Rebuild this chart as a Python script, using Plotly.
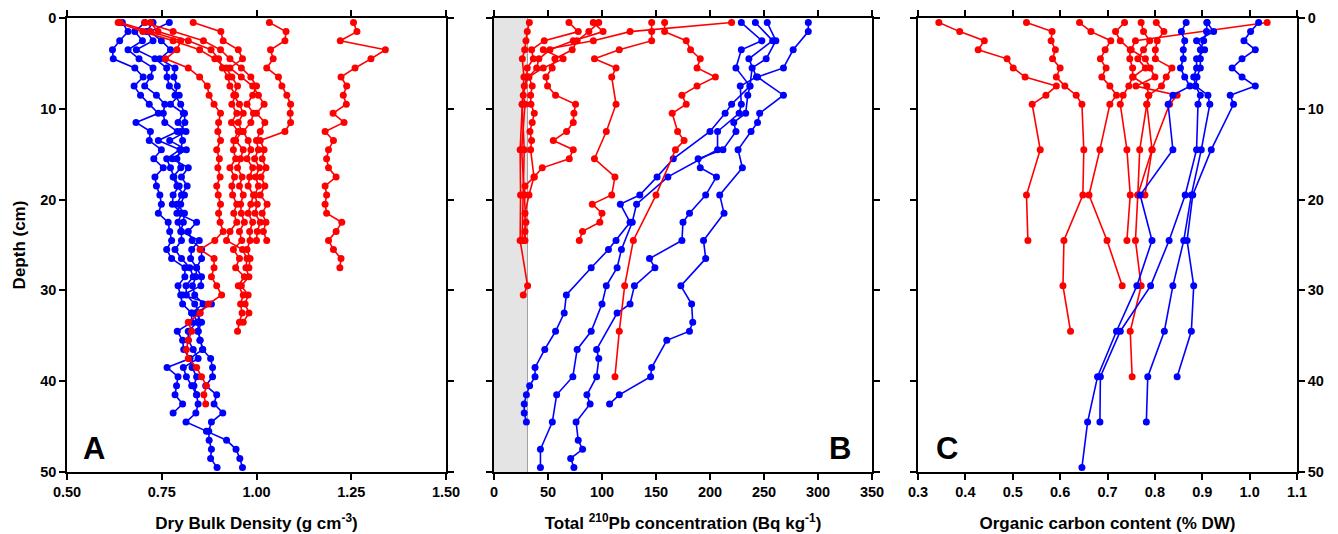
import plotly.graph_objects as go

# ---------------- data ----------------
DEPTH_1CM = [0.5, 1.5, 2.5, 3.5, 4.5, 5.5, 6.5, 7.5, 8.5, 9.5, 10.5, 11.5, 12.5, 13.5, 14.5,
             15.5, 16.5, 17.5, 18.5, 19.5, 20.5, 21.5, 22.5, 23.5, 24.5, 25.5, 26.5, 27.5,
             28.5, 29.5, 30.5, 31.5, 32.5, 33.5, 34.5, 35.5, 36.5, 37.5, 38.5, 39.5, 40.5,
             41.5, 42.5, 43.5, 44.5, 45.5, 46.5, 47.5, 48.5, 49.5]

# Panel A - dry bulk density (g cm-3), sampled every 1 cm from 0.5 cm
A_BLUE_1 = [0.646, 0.661, 0.639, 0.620, 0.622, 0.679, 0.701, 0.677, 0.694, 0.717, 0.741, 0.682,
            0.720, 0.717, 0.749, 0.729, 0.754, 0.732, 0.736, 0.745, 0.749, 0.741, 0.767, 0.771,
            0.776, 0.763, 0.776, 0.811, 0.811, 0.793, 0.800, 0.805, 0.829, 0.829, 0.791, 0.805,
            0.808, 0.824, 0.764, 0.793, 0.789, 0.785, 0.805, 0.780]
A_BLUE_2 = [0.705, 0.679, 0.699, 0.661, 0.690, 0.727, 0.720, 0.705, 0.736, 0.758, 0.754, 0.758,
            0.791, 0.741, 0.798, 0.763, 0.773, 0.782, 0.796, 0.780, 0.778, 0.802, 0.793, 0.802,
            0.802, 0.785, 0.802, 0.824, 0.833, 0.814, 0.815, 0.837, 0.851, 0.844, 0.820, 0.820,
            0.833, 0.846, 0.807, 0.815, 0.829, 0.842]
A_BLUE_3 = [0.727, 0.710, 0.727, 0.683, 0.732, 0.763, 0.764, 0.770, 0.796, 0.773, 0.807, 0.793,
            0.814, 0.771, 0.815, 0.778, 0.820, 0.802, 0.817, 0.802, 0.790, 0.810, 0.807, 0.800,
            0.849, 0.829, 0.826, 0.842, 0.840, 0.831, 0.837, 0.859, 0.829, 0.846, 0.846, 0.851,
            0.858, 0.879, 0.884, 0.884, 0.866, 0.895, 0.888, 0.911, 0.881, 0.874, 0.875, 0.881,
            0.879, 0.896]
A_BLUE_4 = [0.770, 0.719, 0.749, 0.773, 0.745, 0.785, 0.782, 0.791, 0.785, 0.800, 0.810, 0.811,
            0.800, 0.805, 0.800, 0.790, 0.800, 0.780, 0.790, 0.810, 0.800, 0.790, 0.842, 0.820,
            0.830, 0.855, 0.855, 0.842, 0.855, 0.853, 0.805, 0.881, 0.840, 0.855, 0.846, 0.851,
            0.858, 0.824, 0.830, 0.842, 0.835, 0.842, 0.846, 0.840, 0.814, 0.868, 0.921, 0.946,
            0.956, 0.963]

A_RED_1 = [1.256, 1.265, 1.221, 1.340, 1.302, 1.260, 1.223, 1.238, 1.229, 1.237, 1.202, 1.231,
           1.181, 1.203, 1.190, 1.185, 1.190, 1.210, 1.181, 1.185, 1.181, 1.185, 1.225, 1.210,
           1.190, 1.203, 1.223, 1.220]
A_RED_2 = [1.034, 1.078, 1.075, 1.037, 1.044, 1.027, 1.058, 1.067, 1.080, 1.090, 1.089, 1.090,
           1.075, 1.010, 1.020, 1.015, 1.025, 1.012, 1.022, 1.010, 1.028, 1.015, 1.025, 1.018,
           1.027]
A_RED_3 = [0.833, 0.906, 0.912, 0.952, 0.963, 0.930, 0.960, 0.990, 1.005, 1.020, 1.000, 1.022,
           1.010, 1.000, 1.005, 0.995, 1.008, 0.998, 1.005, 0.996, 1.002, 0.996, 1.010, 1.002,
           1.000]
A_RED_4 = [0.705, 0.780, 0.860, 0.905, 0.930, 0.960, 0.985, 1.000, 0.990, 0.975, 0.992, 0.985,
           0.965, 0.978, 0.985, 0.975, 0.990, 0.982, 0.978, 0.992, 0.985, 0.978, 0.990, 0.982,
           0.983, 0.975, 0.983, 0.980]
A_RED_5 = [0.635, 0.700, 0.780, 0.850, 0.890, 0.920, 0.935, 0.950, 0.940, 0.955, 0.965, 0.952,
           0.961, 0.945, 0.965, 0.958, 0.950, 0.962, 0.955, 0.965, 0.958, 0.960, 0.968, 0.955,
           0.961, 0.939, 0.955, 0.945, 0.968, 0.952, 0.965, 0.958, 0.962, 0.955, 0.950]
A_RED_6 = [0.720, 0.740, 0.820, 0.880, 0.900, 0.910, 0.925, 0.930, 0.945, 0.935, 0.948, 0.934,
           0.952, 0.940, 0.939, 0.945, 0.930, 0.942, 0.935, 0.937, 0.948, 0.940, 0.948, 0.930,
           0.921, 0.963, 0.975, 0.972, 0.980, 0.960, 0.978, 0.970, 0.980, 0.965]
A_RED_7 = [0.640, 0.720, 0.800, 0.790, 0.760, 0.820, 0.850, 0.870, 0.875, 0.888, 0.905, 0.900,
           0.898, 0.905, 0.895, 0.902, 0.898, 0.904, 0.895, 0.899, 0.905, 0.900, 0.904, 0.912,
           0.890, 0.851, 0.888, 0.888, 0.881, 0.895, 0.908, 0.873, 0.851, 0.820, 0.829, 0.820,
           0.815, 0.820, 0.842, 0.855, 0.868, 0.861, 0.866]

# Panel B - total 210Pb (Bq kg-1)
B_BLUE_1_D = [0.5, 1.5, 3.5, 5.5, 6.5, 8.5, 10.5, 11.5, 12.5, 14.5, 16.5, 19.5, 21.5, 24.5,
              26.5, 29.5, 31.5, 33.5, 34.5, 35.5, 38.5, 39.5, 41.5, 42.5]
B_BLUE_1 = [291, 291, 277, 268, 244, 268, 246, 244, 238, 226, 230, 209, 213, 194, 196, 173,
            183, 184, 181, 160, 146, 145, 116, 107]
B_BLUE_2_D = [0.5, 2.5, 4.5, 5.5, 7.5, 8.5, 10.5, 11.5, 12.5, 14.5, 15.5, 16.5, 17.5, 19.5,
              21.5, 22.5, 24.5, 26.5, 27.5, 29.5, 31.5, 32.5, 36.5, 37.5, 39.5, 41.5, 42.5,
              44.5, 46.5, 47.5, 48.5, 49.5]
B_BLUE_2 = [253, 261, 252, 239, 237, 235, 233, 222, 224, 212, 189, 191, 206, 196, 181, 175,
            174, 144, 149, 130, 126, 114, 95, 97, 95, 86, 89, 76, 78, 82, 71, 74]
B_BLUE_3_D = [0.5, 2.5, 4.5, 6.5, 7.5, 9.5, 10.5, 12.5, 14.5, 17.5, 20.5, 22.5, 25.5, 27.5,
              29.5, 31.5, 34.5, 36.5, 39.5, 41.5, 44.5, 47.5, 49.5]
B_BLUE_3 = [242, 258, 236, 243, 228, 229, 227, 207, 207, 161, 132, 128, 118, 114, 104, 100,
            90, 77, 73, 58, 54, 43, 43]
B_BLUE_4_D = [0.5, 2.5, 3.5, 5.5, 7.5, 9.5, 10.5, 12.5, 15.5, 17.5, 19.5, 20.5, 22.5, 24.5,
              25.5, 27.5, 30.5, 32.5, 34.5, 36.5, 38.5, 39.5, 40.5, 41.5, 42.5, 43.5, 44.5]
B_BLUE_4 = [229, 248, 229, 224, 237, 220, 214, 200, 166, 151, 135, 117, 126, 113, 106, 90,
            67, 65, 57, 47, 38, 38, 33, 30, 28, 28, 30]

B_RED_1_D = [0.5, 1.5, 2.5, 3.5, 4.5, 6.5, 9.5, 14.5, 19.5, 24.5, 29.5, 30.5]
B_RED_1 = [32.7, 30.8, 29.6, 28.4, 26.2, 27.7, 26.2, 24.2, 24.6, 24.2, 31.1, 27.1]
B_RED_2_D = [0.5, 1.5, 2.5, 3.5, 4.5, 5.5, 6.5, 8.5, 9.5, 14.5, 19.5, 22.5, 24.5]
B_RED_2 = [69.4, 78.0, 46.5, 34.8, 36.4, 30.8, 30.2, 27.1, 28.7, 25.6, 28.0, 29.6, 28.7]
B_RED_3_D = [0.5, 1.5, 2.5, 3.5, 4.5, 5.5, 6.5, 7.5, 8.5, 9.5, 10.5, 11.5, 12.5, 13.5, 14.5,
             17.5, 19.5, 21.5, 23.5, 24.5]
B_RED_3 = [91.9, 101.0, 73.4, 51.8, 41.6, 39.5, 32.4, 35.4, 33.9, 34.2, 37.3, 35.4, 33.3,
           34.8, 33.9, 37.0, 32.4, 28.7, 28.7, 27.7]
B_RED_4_D = [0.5, 1.5, 2.5, 3.5, 4.5, 5.5, 6.5, 7.5, 8.5, 9.5, 10.5, 11.5, 12.5, 13.5, 14.5,
             15.5, 16.5, 17.5, 18.5, 19.5]
B_RED_4 = [97.0, 87.8, 77.0, 72.4, 56.4, 53.9, 48.1, 49.6, 57.0, 75.5, 74.0, 73.4, 67.2,
           54.9, 73.4, 69.7, 44.7, 37.3, 28.7, 28.0]
B_RED_5_D = [0.5, 1.5, 2.5, 3.5, 4.5, 5.5, 6.5, 9.5, 12.5, 15.5, 17.5, 19.5, 20.5, 21.5,
             22.5, 23.5, 24.5]
B_RED_5 = [146, 146, 146, 116, 93, 113, 109, 113, 104, 93, 112, 109, 91, 100, 98, 82, 79]
B_RED_6_D = [0.5, 1.5, 2.5, 3.5, 4.5, 5.5, 6.5, 7.5, 8.5, 9.5, 10.5, 12.5, 13.5, 14.5, 19.5,
             24.5, 29.5, 34.5, 39.5]
B_RED_6 = [158, 158, 178, 182, 191, 188, 205, 188, 174, 178, 165, 170, 176, 168, 150, 129,
           121, 116, 112]
B_RED_7_D = [0.5, 1.5, 2.5, 3.5, 4.5, 5.5, 6.5, 7.5, 9.5, 14.5, 19.5, 24.5]
B_RED_7 = [220, 126, 92, 45.6, 64, 45.6, 32, 28, 26, 28, 27, 26]
B_SUPPORTED_PB = 31  # upper edge of shaded band

# Panel C - organic carbon (% DW)
C_DEPTH = [0.5, 1.5, 2.5, 3.5, 4.5, 5.5, 6.5, 7.5, 8.5, 9.5, 14.5, 19.5, 24.5, 29.5, 34.5,
           39.5, 44.5, 49.5]
C_RED_1 = [0.344, 0.388, 0.440, 0.427, 0.488, 0.501, 0.526, 0.592, 0.570, 0.541, 0.558, 0.529,
           0.532]
C_RED_2 = [0.529, 0.583, 0.581, 0.590, 0.584, 0.600, 0.592, 0.610, 0.634, 0.646, 0.650, 0.648,
           0.608, 0.606, 0.622]
C_RED_3 = [0.641, 0.665, 0.707, 0.695, 0.685, 0.697, 0.688, 0.705, 0.719, 0.705, 0.684, 0.661,
           0.699, 0.731]
C_RED_4 = [0.736, 0.717, 0.727, 0.748, 0.747, 0.753, 0.753, 0.745, 0.733, 0.727, 0.741, 0.748,
           0.741]
C_RED_5 = [0.771, 0.776, 0.789, 0.776, 0.764, 0.780, 0.754, 0.783, 0.787, 0.783, 0.768, 0.764,
           0.759, 0.771, 0.748, 0.752]
C_RED_6 = [0.803, 0.819, 0.805, 0.801, 0.801, 0.836, 0.824, 0.814, 0.787, 0.783, 0.794, 0.779]
C_RED_7_D = [0.5, 2.5, 3.5, 4.5, 5.5, 6.5, 7.5, 8.5, 9.5, 14.5, 19.5]
C_RED_7 = [1.037, 0.759, 0.750, 0.780, 0.790, 0.800, 0.760, 0.847, 0.831, 0.794, 0.764]
C_BLUE_1 = [0.866, 0.856, 0.863, 0.860, 0.860, 0.854, 0.863, 0.874, 0.838, 0.828, 0.838, 0.769,
            0.794, 0.762, 0.719, 0.679, 0.658, 0.646]
C_BLUE_2 = [0.910, 0.909, 0.903, 0.896, 0.896, 0.896, 0.889, 0.886, 0.896, 0.891, 0.888, 0.864,
            0.830, 0.791, 0.727, 0.685, 0.684]
C_BLUE_3 = [0.910, 0.924, 0.888, 0.905, 0.888, 0.888, 0.882, 0.886, 0.912, 0.916, 0.898, 0.877,
            0.861, 0.838, 0.820, 0.785, 0.782]
C_BLUE_4 = [1.019, 1.002, 0.988, 1.012, 0.984, 0.963, 0.984, 1.012, 0.959, 0.966, 0.919, 0.880,
            0.868, 0.882, 0.877, 0.847]

RED = "#ff0000"
BLUE = "#0000ff"
FONT = "Liberation Sans, Arial, sans-serif"

fig = go.Figure()


def add(xv, yv, color, xa, ya):
    fig.add_trace(go.Scatter(
        x=xv, y=yv, mode="lines+markers", xaxis=xa, yaxis=ya,
        line=dict(color=color, width=1.6),
        marker=dict(color=color, size=7),
        hoverinfo="skip", showlegend=False))


# Panel A
for s in [A_BLUE_1, A_BLUE_2, A_BLUE_3, A_BLUE_4]:
    add(s, DEPTH_1CM[:len(s)], BLUE, "x", "y")
for s in [A_RED_1, A_RED_2, A_RED_3, A_RED_4, A_RED_5, A_RED_6, A_RED_7]:
    add(s, DEPTH_1CM[:len(s)], RED, "x", "y")

# Panel B
for d, s in [(B_BLUE_1_D, B_BLUE_1), (B_BLUE_2_D, B_BLUE_2), (B_BLUE_3_D, B_BLUE_3),
             (B_BLUE_4_D, B_BLUE_4)]:
    add(s, d, BLUE, "x2", "y2")
for d, s in [(B_RED_1_D, B_RED_1), (B_RED_2_D, B_RED_2), (B_RED_3_D, B_RED_3),
             (B_RED_4_D, B_RED_4), (B_RED_5_D, B_RED_5), (B_RED_6_D, B_RED_6),
             (B_RED_7_D, B_RED_7)]:
    add(s, d, RED, "x2", "y2")

# Panel C
for s in [C_RED_1, C_RED_2, C_RED_3, C_RED_4, C_RED_5, C_RED_6]:
    add(s, C_DEPTH[:len(s)], RED, "x3", "y3")
add(C_RED_7, C_RED_7_D, RED, "x3", "y3")
for s in [C_BLUE_1, C_BLUE_2, C_BLUE_3, C_BLUE_4]:
    add(s, C_DEPTH[:len(s)], BLUE, "x3", "y3")

tickfont = dict(family=FONT, size=14.5, color="black", weight="bold")
titlefont = dict(family=FONT, size=17, color="black", weight="bold")

axis_common = dict(showline=True, linecolor="black", linewidth=1.6, ticks="outside",
                   ticklen=6, tickwidth=1.6, tickcolor="black", mirror="allticks",
                   showgrid=False, zeroline=False, tickfont=tickfont, automargin=False)

# page body has an 8px margin: figure is 1330x526 placed at (8, 8)
FIG_W, FIG_H = 1330, 526
ML, MR, MT, MB = 59, 41, 10, 62
W = FIG_W - ML - MR
fig.update_layout(
    width=FIG_W, height=FIG_H,
    margin=dict(l=ML, r=MR, t=MT, b=MB, autoexpand=False),
    plot_bgcolor="white", paper_bgcolor="white", showlegend=False,
    xaxis=dict(domain=[0, 379 / W], range=[0.5, 1.5], tickvals=[0.5, 0.75, 1.0, 1.25, 1.5],
               tickformat=".2f", anchor="y",
               title=dict(text="Dry Bulk Density (g cm<sup>-3</sup>)", font=titlefont, standoff=18),
               **axis_common),
    xaxis2=dict(domain=[427 / W, 805 / W], range=[0, 350], dtick=50, anchor="y2",
                title=dict(text="Total <sup>210</sup>Pb concentration (Bq kg<sup>-1</sup>)",
                           font=titlefont, standoff=18),
                **axis_common),
    xaxis3=dict(domain=[851 / W, 1.0], range=[0.3, 1.1], dtick=0.1, tickformat=".1f",
                anchor="y3",
                title=dict(text="Organic carbon content (% DW)", font=titlefont, standoff=18),
                **axis_common),
    yaxis=dict(domain=[0, 1], range=[50, 0], dtick=10, anchor="x",
               title=dict(text="Depth (cm)", font=titlefont, standoff=10), **axis_common),
    yaxis2=dict(domain=[0, 1], range=[50, 0], dtick=10, anchor="x2", showticklabels=False,
                **axis_common),
    yaxis3=dict(domain=[0, 1], range=[50, 0], dtick=10, anchor="x3", side="right",
                **axis_common),
)

# shaded supported-Pb band in panel B
fig.add_shape(type="rect", xref="x2", yref="y2", x0=0, x1=B_SUPPORTED_PB, y0=0, y1=50,
              fillcolor="#e4e4e4", line=dict(width=0), layer="below")
fig.add_shape(type="line", xref="x2", yref="y2", x0=B_SUPPORTED_PB, x1=B_SUPPORTED_PB, y0=0,
              y1=50, line=dict(color="#a0a0a0", width=1), layer="below")

letter_font = dict(family=FONT, size=31, color="black", weight="bold")
fig.add_annotation(text="A", x=0.571, y=47.4, xref="x", yref="y", showarrow=False,
                   font=letter_font)
fig.add_annotation(text="B", x=320, y=47.4, xref="x2", yref="y2", showarrow=False,
                   font=letter_font)
fig.add_annotation(text="C", x=0.362, y=47.4, xref="x3", yref="y3", showarrow=False,
                   font=letter_font)

fig.write_html("out.html")
